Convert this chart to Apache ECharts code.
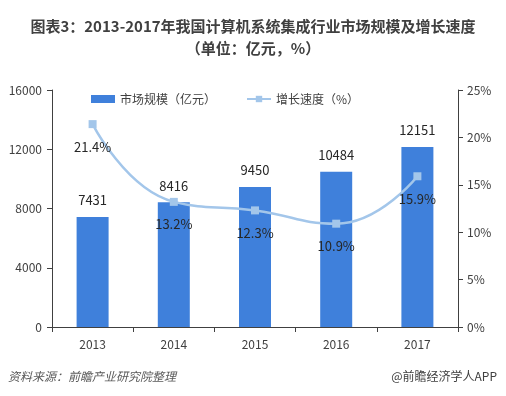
<!DOCTYPE html>
<html><head><meta charset="utf-8">
<script src="https://cdn.jsdelivr.net/npm/echarts@6/dist/echarts.min.js"></script>
<style>html,body{margin:0;padding:0;background:#fff}#c{width:506px;height:396px}</style>
</head><body><div id="c"></div>
<script>
const years = ['2013','2014','2015','2016','2017'];
const marketSize = [7431, 8416, 9450, 10484, 12151];
const growthRate = [21.4, 13.2, 12.3, 10.9, 15.9];
const leftTicks = [0, 4000, 8000, 12000, 16000];
const rightTicks = [0, 5, 10, 15, 20, 25];

const font = '"Noto Sans CJK SC", "Noto Sans", sans-serif';
const chart = echarts.init(document.getElementById('c'));
chart.setOption({
  backgroundColor: '#fff',
  animation: false,
  textStyle: { fontFamily: font },
  title: {
    text: '图表3：2013-2017年我国计算机系统集成行业市场规模及增长速度\n（单位：亿元，%）',
    left: 'center', top: 10,
    textStyle: { fontSize: 15, fontWeight: 'bold', color: '#404040', lineHeight: 22, fontFamily: font }
  },
  legend: {
    top: 88, left: 86, itemGap: 30, itemWidth: 24, itemHeight: 8,
    textStyle: { fontSize: 12, color: '#404040', fontFamily: font },
    data: [
      { name: '市场规模（亿元）', icon: 'rect' },
      { name: '增长速度（%）' }
    ]
  },
  grid: { left: 52, right: 48, top: 90, bottom: 69 },
  xAxis: {
    type: 'category', data: years,
    axisLine: { lineStyle: { color: '#404040' } },
    axisTick: { show: true, length: 5, lineStyle: { color: '#404040' } },
    axisLabel: { fontSize: 12, color: '#404040', margin: 11, fontFamily: font }
  },
  yAxis: [
    {
      type: 'value', min: leftTicks[0], max: leftTicks[leftTicks.length-1], interval: 4000,
      axisLine: { show: true, lineStyle: { color: '#404040' } },
      axisTick: { show: true, length: 5, lineStyle: { color: '#404040' } },
      splitLine: { show: false },
      axisLabel: { fontSize: 12, color: '#404040', margin: 10, fontFamily: font, formatter: v => String(v) }
    },
    {
      type: 'value', min: rightTicks[0], max: rightTicks[rightTicks.length-1], interval: 5,
      axisLine: { show: true, lineStyle: { color: '#404040' } },
      axisTick: { show: true, length: 5, lineStyle: { color: '#404040' } },
      splitLine: { show: false },
      axisLabel: { fontSize: 12, color: '#404040', margin: 9, formatter: '{value}%', fontFamily: font }
    }
  ],
  series: [
    {
      name: '市场规模（亿元）', type: 'bar', data: marketSize, barWidth: 32,
      itemStyle: { color: '#3f80db' },
      label: { show: true, position: 'top', distance: 10, fontSize: 13, color: '#262626', fontFamily: font }
    },
    {
      name: '增长速度（%）', type: 'line', yAxisIndex: 1, data: growthRate, smooth: 0.5,
      symbol: 'rect', symbolSize: 8,
      lineStyle: { color: '#a3c6ea', width: 2.5 },
      itemStyle: { color: '#a3c6ea' },
      label: { show: true, position: 'bottom', distance: 12, fontSize: 13, color: '#262626', formatter: '{c}%', fontFamily: font }
    }
  ],
  graphic: [
    { type: 'text', left: 8, top: 370, style: { text: '资料来源：前瞻产业研究院整理', fontSize: 12, fontStyle: 'italic', fill: '#595959', fontFamily: font } },
    { type: 'text', right: 9, top: 370, style: { text: '@前瞻经济学人APP', fontSize: 12, fill: '#404040', fontFamily: font } }
  ]
});
</script></body></html>
